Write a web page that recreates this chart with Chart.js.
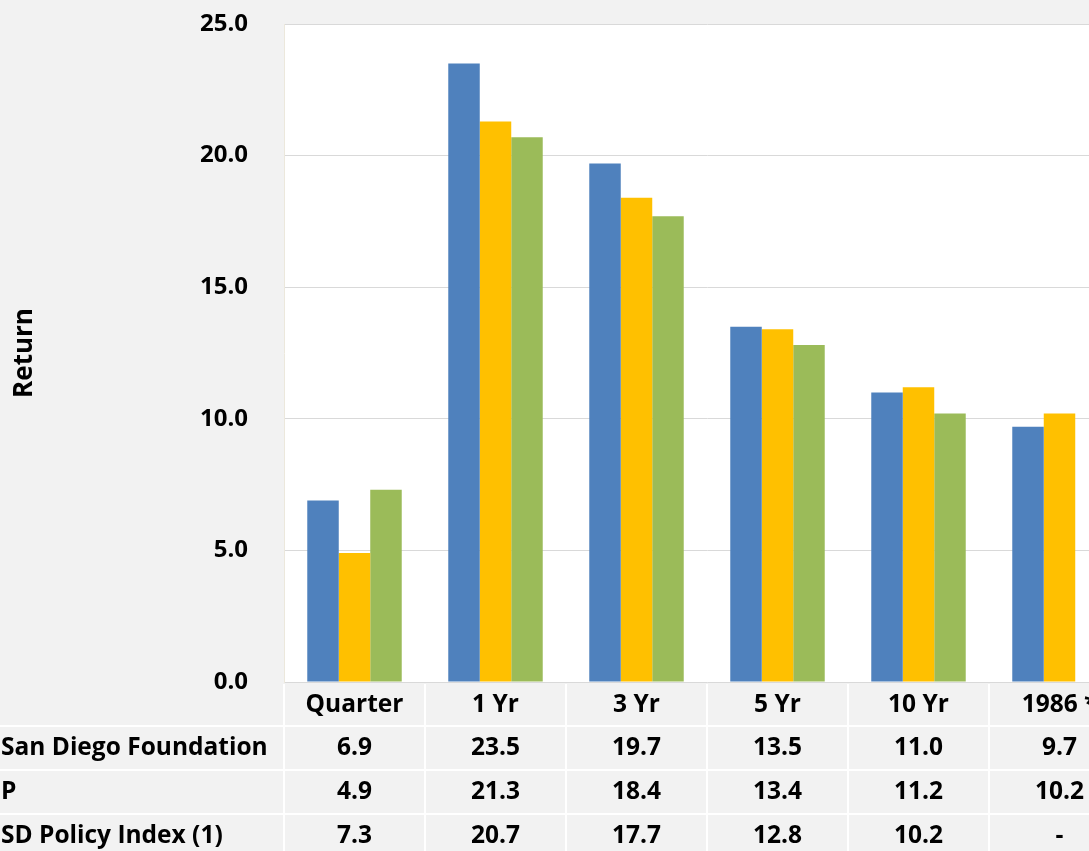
<!DOCTYPE html>
<html>
<head>
<meta charset="utf-8">
<script src="https://cdn.jsdelivr.net/npm/chart.js@4.4.0/dist/chart.umd.min.js"></script>
<style>
  html, body { margin: 0; padding: 0; background: #f2f2f2; overflow: hidden; }
  #wrap { width: 1140px; height: 851px; }
</style>
</head>
<body>
<div id="wrap"><canvas id="chart"></canvas></div>
<script>
"use strict";

const periods = ["Quarter", "1 Yr", "3 Yr", "5 Yr", "10 Yr", "1986 *"];
const seriesNames = ["San Diego Foundation", "P", "SD Policy Index (1)"];
const foundationReturns = [6.9, 23.5, 19.7, 13.5, 11.0, 9.7];
const pReturns = [4.9, 21.3, 18.4, 13.4, 11.2, 10.2];
const policyReturns = [7.3, 20.7, 17.7, 12.8, 10.2, null];
const yTicks = [0, 5, 10, 15, 20, 25];

const colors = ["#4f81bd", "#ffc000", "#9bbb59"];
const fontFamily = "'Open Sans', sans-serif";

function fmt(v) {
  return v === null ? "-" : v.toFixed(1);
}

// white plot area on grey background
const plotBackground = {
  id: "plotBackground",
  beforeDraw(chart) {
    const { ctx, chartArea } = chart;
    ctx.save();
    ctx.fillStyle = "#ffffff";
    ctx.fillRect(chartArea.left, chartArea.top, chartArea.right - chartArea.left, chartArea.bottom - chartArea.top);
    ctx.restore();
  },
};

// the data table under the bars
const dataTable = {
  id: "dataTable",
  afterDraw(chart) {
    const { ctx, chartArea } = chart;
    const xScale = chart.scales.x;
    const step = xScale.getPixelForValue(1) - xScale.getPixelForValue(0);
    const headerTop = chartArea.bottom + 2;
    const headerH = 42;
    const rowH = 44;
    const rows = [foundationReturns, pReturns, policyReturns];

    ctx.save();
    ctx.strokeStyle = "#ffffff";
    ctx.lineWidth = 2;

    // horizontal lines
    for (let r = 0; r < rows.length; r++) {
      const y = headerTop + headerH + r * rowH;
      ctx.beginPath();
      ctx.moveTo(0, y);
      ctx.lineTo(chart.width, y);
      ctx.stroke();
    }
    // vertical lines
    for (let i = 0; i <= periods.length; i++) {
      const x = xScale.getPixelForValue(0) - step / 2 + i * step;
      ctx.beginPath();
      ctx.moveTo(x, headerTop);
      ctx.lineTo(x, chart.height);
      ctx.stroke();
    }

    ctx.fillStyle = "#000000";
    ctx.font = "bold 24.5px " + fontFamily;
    ctx.textBaseline = "middle";
    ctx.textAlign = "center";
    for (let i = 0; i < periods.length; i++) {
      const x = xScale.getPixelForValue(i);
      ctx.fillText(periods[i], x, headerTop + headerH / 2);
      for (let r = 0; r < rows.length; r++) {
        ctx.fillText(fmt(rows[r][i]), x, headerTop + headerH + r * rowH + rowH / 2);
      }
    }
    ctx.textAlign = "left";
    for (let r = 0; r < rows.length; r++) {
      ctx.fillText(seriesNames[r], 1, headerTop + headerH + r * rowH + rowH / 2);
    }
    ctx.restore();
  },
};

const data = {
  labels: periods,
  datasets: [
    { label: seriesNames[0], data: foundationReturns, backgroundColor: colors[0] },
    { label: seriesNames[1], data: pReturns, backgroundColor: colors[1] },
    { label: seriesNames[2], data: policyReturns, backgroundColor: colors[2] },
  ],
};

const config = {
  type: "bar",
  data: data,
  options: {
    responsive: true,
    maintainAspectRatio: false,
    animation: false,
    devicePixelRatio: 1,
    layout: { padding: { top: 0, right: 10, bottom: 169, left: 0 } },
    datasets: {
      bar: { categoryPercentage: 0.67, barPercentage: 1.0 },
    },
    plugins: {
      legend: { display: false },
      tooltip: { enabled: false },
    },
    scales: {
      x: { display: false },
      y: {
        min: 0,
        max: 25,
        afterFit(scale) {
          scale.width = 284;
          scale.paddingTop = 24;
        },
        afterBuildTicks(scale) { scale.ticks = yTicks.map((v) => ({ value: v })); },
        grid: { color: "#d9d9d9", drawTicks: false },
        border: { color: "#ece8dc" },
        ticks: {
          padding: 36,
          color: "#000000",
          font: { family: fontFamily, size: 24, weight: "bold" },
          callback: (v) => v.toFixed(1),
        },
        title: {
          display: true,
          text: "Return",
          color: "#000000",
          padding: { top: 9 },
          font: { family: fontFamily, size: 26, weight: "bold" },
        },
      },
    },
  },
  plugins: [plotBackground, dataTable],
};

const returnsChart = new Chart(document.getElementById("chart"), config);
</script>
</body>
</html>
